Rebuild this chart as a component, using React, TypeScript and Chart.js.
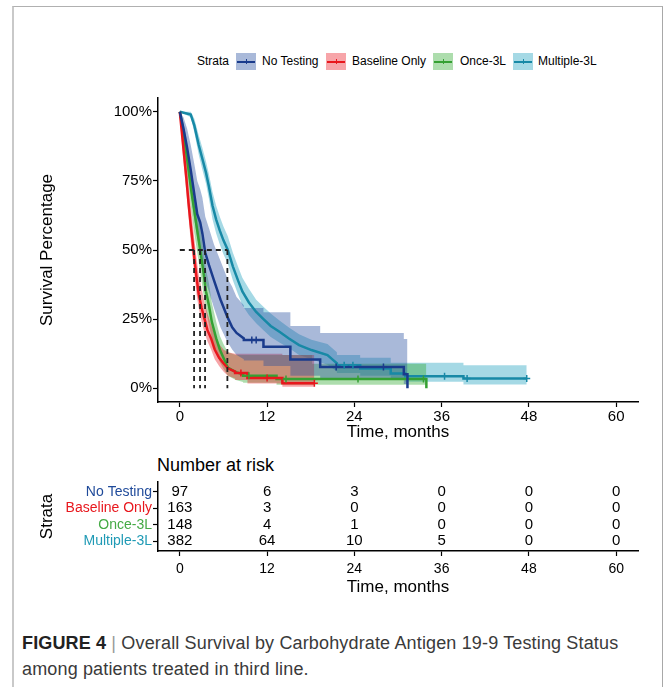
import React, { useEffect, useRef } from 'react';
import { Chart, registerables } from 'chart.js';
Chart.register(...registerables);

const FONT = "'Liberation Sans', Arial, Helvetica, sans-serif";

// ---- axis ticks / labels ----
const xTicks = [0, 12, 24, 36, 48, 60];
const yTicks = [0, 0.25, 0.5, 0.75, 1];
const strata = ['No Testing', 'Baseline Only', 'Once-3L', 'Multiple-3L'];

// ---- No Testing (curve vertices: time, survival, CI upper, CI lower) ----
const noTestingT = [0, 0.5, 1.0, 1.5, 2.0, 2.4, 2.8, 3.1, 3.5, 4.0, 4.7, 5.6, 6.5, 7.2, 7.8, 8.8, 8.8, 11.5, 11.5, 15.2, 15.2, 19.3, 19.3, 30.8, 30.8, 31.3, 31.3];
const noTestingS = [1, 0.94, 0.87, 0.79, 0.70, 0.63, 0.60, 0.56, 0.49, 0.446, 0.39, 0.32, 0.26, 0.22, 0.20, 0.18, 0.174, 0.174, 0.15, 0.15, 0.104, 0.104, 0.077, 0.077, 0.05, 0.05, 0];
const noTestingHi = [1, 0.98, 0.94, 0.88, 0.81, 0.75, 0.72, 0.69, 0.62, 0.58, 0.52, 0.46, 0.40, 0.367, 0.33, 0.30, 0.29, 0.29, 0.275, 0.275, 0.225, 0.225, 0.20, 0.20, 0.178, 0.178, 0.178];
const noTestingLo = [1, 0.89, 0.80, 0.71, 0.61, 0.54, 0.50, 0.46, 0.39, 0.35, 0.29, 0.22, 0.17, 0.14, 0.12, 0.105, 0.10, 0.10, 0.08, 0.08, 0.045, 0.045, 0.03, 0.03, 0.015, 0.015, 0.015];
const noTestingCens = [9.9, 10.5, 21.5, 28.0];

// ---- Baseline Only ----
const baselineT = [0, 0.3, 0.6, 0.9, 1.2, 1.5, 1.8, 2.0, 2.3, 2.6, 3.0, 3.4, 3.8, 4.3, 4.8, 5.4, 6.0, 6.6, 7.6, 7.6, 9.3, 9.3, 14.1, 14.1, 18.5];
const baselineS = [1, 0.92, 0.84, 0.76, 0.67, 0.59, 0.52, 0.47, 0.40, 0.34, 0.29, 0.25, 0.21, 0.18, 0.14, 0.11, 0.09, 0.072, 0.06, 0.055, 0.055, 0.037, 0.037, 0.018, 0.018];
const baselineHi = [1, 0.96, 0.89, 0.82, 0.73, 0.66, 0.59, 0.54, 0.47, 0.41, 0.36, 0.31, 0.27, 0.23, 0.19, 0.16, 0.14, 0.13, 0.125, 0.125, 0.125, 0.125, 0.125, 0.12, 0.12];
const baselineLo = [1, 0.88, 0.79, 0.71, 0.62, 0.53, 0.46, 0.41, 0.34, 0.29, 0.24, 0.20, 0.17, 0.14, 0.105, 0.08, 0.06, 0.045, 0.035, 0.03, 0.03, 0.017, 0.017, 0.005, 0.005];
const baselineCens = [8.4, 12.0, 18.5];

// ---- Once-3L ----
const onceT = [0, 0.4, 0.8, 1.2, 1.6, 2.0, 2.4, 2.8, 3.2, 3.6, 4.0, 4.4, 5.0, 5.5, 6.0, 6.6, 7.7, 8.7, 8.7, 13.3, 13.3, 18.2, 18.2, 33.9, 33.9];
const onceS = [1, 0.94, 0.87, 0.79, 0.71, 0.64, 0.57, 0.50, 0.43, 0.35, 0.30, 0.24, 0.18, 0.14, 0.11, 0.075, 0.058, 0.05, 0.045, 0.045, 0.033, 0.033, 0.033, 0.033, 0];
const onceHi = [1, 0.97, 0.92, 0.85, 0.78, 0.71, 0.65, 0.58, 0.51, 0.43, 0.38, 0.31, 0.24, 0.19, 0.16, 0.13, 0.12, 0.12, 0.12, 0.12, 0.12, 0.12, 0.088, 0.088, 0.088];
const onceLo = [1, 0.90, 0.82, 0.73, 0.64, 0.56, 0.49, 0.42, 0.35, 0.28, 0.23, 0.18, 0.13, 0.095, 0.07, 0.045, 0.03, 0.022, 0.02, 0.02, 0.012, 0.012, 0.012, 0.012, 0.012];
const onceCens = [9.5, 14.6, 24.5, 33.5];

// ---- Multiple-3L ----
const multipleT = [0, 1.5, 2.0, 2.6, 3.1, 3.6, 4.0, 4.5, 5.0, 5.5, 6.0, 6.6, 7.3, 8.0, 8.6, 9.5, 10.5, 11.5, 12.5, 13.7, 15.0, 16.4, 18.1, 20.3, 21.6, 21.6, 24.8, 24.8, 29.0, 29.0, 31.0, 31.0, 39.0, 39.0, 47.7];
const multipleS = [1, 0.99, 0.95, 0.88, 0.83, 0.78, 0.73, 0.66, 0.61, 0.57, 0.535, 0.50, 0.44, 0.39, 0.35, 0.31, 0.276, 0.25, 0.225, 0.204, 0.18, 0.156, 0.138, 0.12, 0.09, 0.083, 0.083, 0.071, 0.071, 0.053, 0.053, 0.043, 0.043, 0.035, 0.035];
const multipleHi = [1, 1, 0.975, 0.915, 0.87, 0.82, 0.775, 0.71, 0.66, 0.62, 0.585, 0.55, 0.49, 0.44, 0.40, 0.36, 0.32, 0.295, 0.27, 0.245, 0.22, 0.195, 0.175, 0.16, 0.13, 0.12, 0.12, 0.11, 0.11, 0.092, 0.092, 0.092, 0.092, 0.083, 0.083];
const multipleLo = [1, 0.98, 0.925, 0.845, 0.79, 0.74, 0.685, 0.61, 0.56, 0.52, 0.485, 0.45, 0.39, 0.34, 0.30, 0.265, 0.235, 0.21, 0.185, 0.165, 0.145, 0.12, 0.105, 0.085, 0.06, 0.055, 0.055, 0.045, 0.045, 0.03, 0.03, 0.023, 0.023, 0.013, 0.013];
const multipleCens = [22.6, 23.8, 36.4, 39.5, 47.7];

// ---- medians ----
const medians = [3.47, 1.96, 2.78, 6.54];

// ---- number at risk ----
const riskTimes = [0, 12, 24, 36, 48, 60];
const riskNoTesting = [97, 6, 3, 0, 0, 0];
const riskBaseline = [163, 3, 0, 0, 0, 0];
const riskOnce = [148, 4, 1, 0, 0, 0];
const riskMultiple = [382, 64, 10, 5, 0, 0];

const lineColors = ['#1a3b8c', '#e8171d', '#35a033', '#1789a6'];
const bandColors = ['rgba(40,80,160,0.4)', 'rgba(235,30,40,0.4)', 'rgba(50,170,50,0.4)', 'rgba(30,160,190,0.4)'];
const labelColors = ['#1f4a9a', '#e8171d', '#45aa45', '#1f9ab5'];

const groups = [
  { t: noTestingT, s: noTestingS, hi: noTestingHi, lo: noTestingLo, cens: noTestingCens },
  { t: baselineT, s: baselineS, hi: baselineHi, lo: baselineLo, cens: baselineCens },
  { t: onceT, s: onceS, hi: onceHi, lo: onceLo, cens: onceCens },
  { t: multipleT, s: multipleS, hi: multipleHi, lo: multipleLo, cens: multipleCens },
];
const riskRows = [riskNoTesting, riskBaseline, riskOnce, riskMultiple];

function survAt(ts: number[], ss: number[], t: number) {
  let v = ss[0];
  for (let i = 0; i < ts.length; i++) if (ts[i] <= t) v = ss[i];
  return v;
}
const pts = (t: number[], v: number[]) => t.map((x, i) => ({ x, y: v[i] }));

function axisCommon() {
  return {
    grid: { display: true, drawOnChartArea: false, drawTicks: true, tickLength: 5, color: '#000', tickColor: '#000', tickWidth: 1.2 },
    border: { display: true, color: '#000', width: 1.5 },
  };
}

function MainChart() {
  const ref = useRef<HTMLCanvasElement>(null);
  useEffect(() => {
    const datasets: any[] = [];
    const maxMed = Math.max(...medians);
    datasets.push({ data: [{ x: 0, y: 0.5 }, { x: maxMed, y: 0.5 }], borderColor: '#222', borderWidth: 1.8, borderDash: [5, 4], pointRadius: 0, fill: false });
    medians.forEach((m) => {
      datasets.push({ data: [{ x: m, y: 0.5 }, { x: m, y: 0 }], borderColor: '#222', borderWidth: 1.8, borderDash: [5, 4], pointRadius: 0, fill: false });
    });
    groups.forEach((g, i) => {
      datasets.push({
        data: g.cens.map((c) => ({ x: c, y: survAt(g.t, g.s, c) })),
        showLine: false, pointStyle: 'cross', pointRadius: 3.5, pointBorderWidth: 1.5,
        pointBorderColor: lineColors[i], borderColor: lineColors[i], fill: false,
      });
    });
    groups.forEach((g, i) => {
      datasets.push({ data: pts(g.t, g.s), borderColor: lineColors[i], borderWidth: 2.5, pointRadius: 0, fill: false, tension: 0 });
    });
    groups.forEach((g, i) => {
      datasets.push({ data: pts(g.t, g.hi), borderColor: 'rgba(0,0,0,0)', borderWidth: 0, backgroundColor: bandColors[i], fill: '+1', pointRadius: 0 });
      datasets.push({ data: pts(g.t, g.lo), borderColor: 'rgba(0,0,0,0)', borderWidth: 0, fill: false, pointRadius: 0 });
    });
    const chart = new Chart(ref.current!, {
      type: 'line',
      data: { datasets },
      options: {
        responsive: false,
        animation: false,
        devicePixelRatio: 1,
        layout: { padding: { left: 30, right: 27, top: 98, bottom: 0 } },
        plugins: { legend: { display: false }, tooltip: { enabled: false }, title: { display: false } },
        scales: {
          x: {
            type: 'linear', min: -3, max: 63,
            afterBuildTicks: (s: any) => { s.ticks = xTicks.map((v) => ({ value: v })); },
            afterFit: (s: any) => { s.height = 48; },
            ticks: { color: '#000', font: { family: FONT, size: 15 }, padding: 1, maxRotation: 0, autoSkip: false },
            title: { display: true, text: 'Time, months', color: '#000', font: { family: FONT, size: 17 }, padding: { top: 0, bottom: 7 } },
            ...axisCommon(),
          },
          y: {
            type: 'linear', min: -0.05, max: 1.05,
            afterBuildTicks: (s: any) => { s.ticks = yTicks.map((v) => ({ value: v })); },
            afterFit: (s: any) => { s.width = 128; },
            ticks: { color: '#000', font: { family: FONT, size: 15 }, padding: 1, callback: (v: any) => Math.round(Number(v) * 100) + '%' },
            title: { display: true, text: 'Survival Percentage', color: '#000', font: { family: FONT, size: 17 }, padding: { top: 7, bottom: 0 } },
            ...axisCommon(),
          },
        },
      } as any,
    });
    return () => chart.destroy();
  }, []);
  return <canvas ref={ref} width={665} height={450} style={{ position: 'absolute', left: 0, top: 0, width: 665, height: 450 }} />;
}

const riskTextPlugin = {
  id: 'riskText',
  afterDraw(chart: any) {
    const { ctx, scales } = chart;
    const x = scales.x, y = scales.y;
    ctx.save();
    ctx.font = `15px ${FONT}`;
    ctx.fillStyle = '#000';
    ctx.textAlign = 'center';
    ctx.textBaseline = 'middle';
    riskRows.forEach((row, r) => {
      row.forEach((n, j) => {
        ctx.fillText(String(n), x.getPixelForValue(riskTimes[j]), y.getPixelForValue(r + 1));
      });
    });
    ctx.restore();
  },
};

function RiskTable() {
  const ref = useRef<HTMLCanvasElement>(null);
  useEffect(() => {
    const chart = new Chart(ref.current!, {
      type: 'scatter',
      data: { datasets: [{ data: [] }] },
      plugins: [riskTextPlugin],
      options: {
        responsive: false,
        animation: false,
        devicePixelRatio: 1,
        layout: { padding: { left: 30, right: 27, top: 32, bottom: 0 } },
        plugins: { legend: { display: false }, tooltip: { enabled: false } },
        scales: {
          x: {
            type: 'linear', min: -3, max: 63,
            afterBuildTicks: (s: any) => { s.ticks = riskTimes.map((v) => ({ value: v })); },
            afterFit: (s: any) => { s.height = 49; },
            ticks: { color: '#000', font: { family: FONT, size: 14 }, padding: 5, maxRotation: 0, autoSkip: false },
            title: { display: true, text: 'Time, months', color: '#000', font: { family: FONT, size: 17 }, padding: { top: 0, bottom: 2 } },
            ...axisCommon(),
          },
          y: {
            type: 'linear', min: 0.4, max: 4.6, reverse: true,
            afterBuildTicks: (s: any) => { s.ticks = [1, 2, 3, 4].map((v) => ({ value: v })); },
            afterFit: (s: any) => { s.width = 128; },
            ticks: {
              font: { family: FONT, size: 14 }, padding: 1,
              color: (c: any) => labelColors[Math.round(c.tick.value) - 1],
              callback: (v: any) => strata[Math.round(Number(v)) - 1],
            },
            title: { display: true, text: 'Strata', color: '#000', font: { family: FONT, size: 17 }, padding: { top: 7, bottom: 0 } },
            ...axisCommon(),
          },
        },
      } as any,
    });
    return () => chart.destroy();
  }, []);
  return <canvas ref={ref} width={665} height={150} style={{ position: 'absolute', left: 0, top: 450, width: 665, height: 150 }} />;
}

function LegendKey({ left, i }: { left: number; i: number }) {
  return (
    <div style={{ position: 'absolute', left, top: 53, width: 20, height: 17, background: bandColors[i] }}>
      <div style={{ position: 'absolute', left: 1, right: 1, top: 7.5, height: 2, background: lineColors[i] }} />
      <div style={{ position: 'absolute', left: 9.5, top: 6, width: 1, height: 5, background: lineColors[i] }} />
    </div>
  );
}

export default function App() {
  const legendText = (text: string, left: number) => (
    <div style={{ position: 'absolute', left, top: 54, fontSize: 12, lineHeight: '15px', fontFamily: FONT, color: '#000', whiteSpace: 'nowrap' }}>{text}</div>
  );
  return (
    <div style={{ position: 'absolute', left: 0, top: 0, width: 665, height: 687, background: '#fff', overflow: 'hidden' }}>
      <div style={{ position: 'absolute', left: 12, top: 6, width: 648, height: 720, borderLeft: '2px solid #c9c9c9', borderTop: '1px solid #b0b0b0', borderRight: '1px solid #a8a8a8' }} />
      {legendText('Strata', 197)}
      <LegendKey left={236} i={0} />
      {legendText(strata[0], 262)}
      <LegendKey left={326} i={1} />
      {legendText(strata[1], 352)}
      <LegendKey left={433} i={2} />
      {legendText(strata[2], 460)}
      <LegendKey left={513} i={3} />
      {legendText(strata[3], 538)}
      <MainChart />
      <div style={{ position: 'absolute', left: 157, top: 454, fontSize: 18, lineHeight: '22px', fontFamily: FONT, color: '#000', whiteSpace: 'nowrap' }}>Number at risk</div>
      <RiskTable />
      <div style={{ position: 'absolute', left: 22, top: 630, fontSize: 18, letterSpacing: '0.15px', lineHeight: '26px', fontFamily: FONT, color: '#3a3a3a', whiteSpace: 'nowrap' }}>
        <span style={{ fontWeight: 'bold', color: '#222' }}>FIGURE 4</span>
        <span style={{ color: '#999' }}> | </span>
        Overall Survival by Carbohydrate Antigen 19-9 Testing Status
        <br />
        among patients treated in third line.
      </div>
    </div>
  );
}
